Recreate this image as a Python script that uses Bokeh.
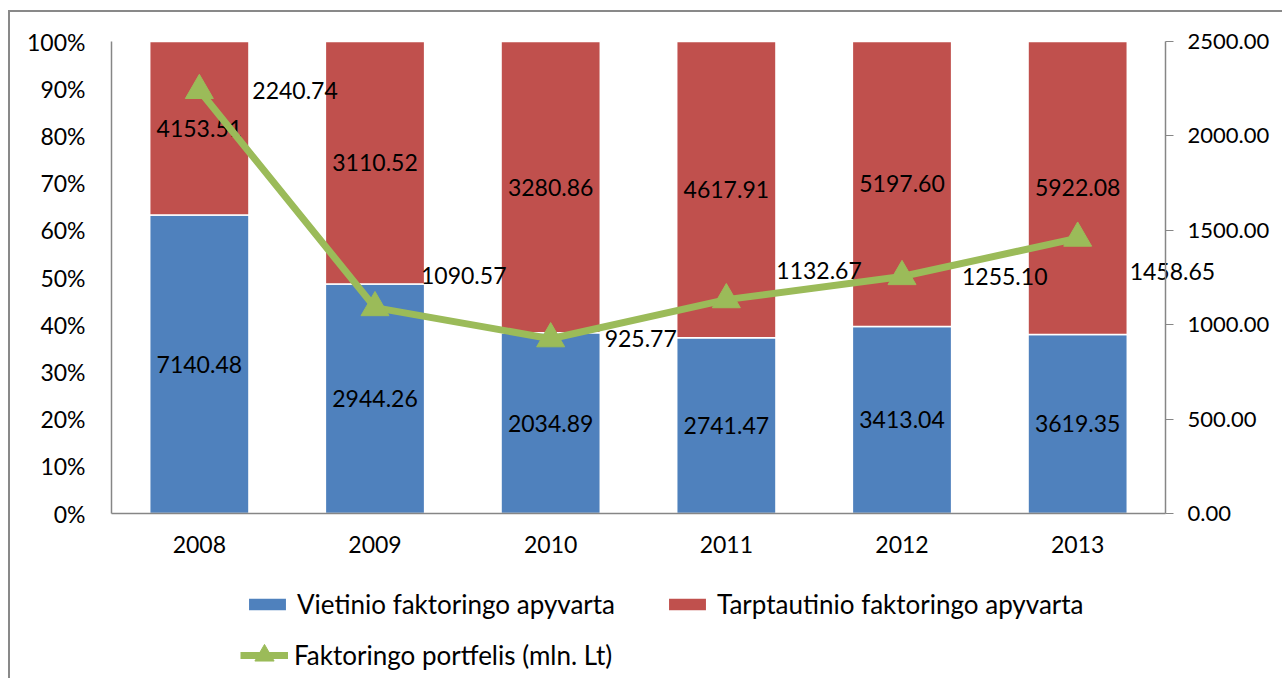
import numpy as np
from bokeh.plotting import figure
from bokeh.models import (ColumnDataSource, Range1d, LinearAxis, FixedTicker,
                          NumeralTickFormatter, Legend, LegendItem, Grid)
from bokeh.core.properties import value
from bokeh.embed import file_html
from bokeh.resources import INLINE

# ---- data ----
years = ["2008", "2009", "2010", "2011", "2012", "2013"]
vietinio = [7140.48, 2944.26, 2034.89, 2741.47, 3413.04, 3619.35]
tarptautinio = [4153.51, 3110.52, 3280.86, 4617.91, 5197.60, 5922.08]
portfelis = [2240.74, 1090.57, 925.77, 1132.67, 1255.10, 1458.65]
pct_ticks = [0, 0.1, 0.2, 0.3, 0.4, 0.5, 0.6, 0.7, 0.8, 0.9, 1.0]
right_ticks = [0, 500, 1000, 1500, 2000, 2500]
right_max = 2500
series_names = ["Vietinio faktoringo apyvarta", "Tarptautinio faktoringo apyvarta",
                "Faktoringo portfelis (mln. Lt)"]

# ---- styles / layout (pixels) ----
FONT = "Lato"
FS = "23px"
FS_R = "22px"
FS_LEG = "26px"
BLUE = "#4F81BD"
RED = "#C0504D"
GREEN = "#9BBB59"
AXIS = "#868686"
line_label_dx = [53, 46, 54, 50, 60, 52]   # label offsets (px)
line_label_dy = [0, -32, 0, -29, 0, 33]

W, H = 1274, 668            # canvas size
ORG_X, ORG_Y = 10, 12       # canvas origin on page
AX_L, AX_R = 111, 1165      # axis x positions on page
AX_T, AX_B = 41, 513        # 100% / 0% y positions on page

n = len(years)
xpos = np.arange(n) + 0.5          # category centres
ppx = (AX_R - AX_L) / n
x_lo = (ORG_X - AX_L) / ppx
x_hi = n + ((ORG_X + W) - AX_R) / ppx
ppy = AX_B - AX_T
y_lo = -((ORG_Y + H) - AX_B) / ppy
y_hi = 1 + (AX_T - ORG_Y) / ppy

v = np.array(vietinio)
t = np.array(tarptautinio)
share_v = v / (v + t)

src = ColumnDataSource(dict(
    x=xpos,
    v_top=share_v,
    v_mid=share_v / 2,
    t_mid=(share_v + 1) / 2,
    ones=[1.0] * n,
    v_lab=["%.2f" % a for a in vietinio],
    t_lab=["%.2f" % a for a in tarptautinio],
))
lsrc = ColumnDataSource(dict(
    x=xpos, y=portfelis,
    lab=["%.2f" % a for a in portfelis],
    dx=line_label_dx,
    dy=line_label_dy,
))

p = figure(x_range=Range1d(x_lo, x_hi), y_range=Range1d(y_lo, y_hi),
           width=W, height=H, output_backend="svg", toolbar_location=None,
           min_border_left=0, min_border_right=0,
           min_border_top=0, min_border_bottom=0,
           x_axis_location=None, y_axis_location=None)
p.styles = {"margin-left": "8px", "margin-top": "10px",
            "border-left": "2px solid #898989", "border-top": "2px solid #898989"}
p.extra_y_ranges = {"right": Range1d(y_lo * right_max, y_hi * right_max)}
p.outline_line_color = None
p.background_fill_color = "white"
p.border_fill_color = "white"
for g in p.select(type=Grid):
    g.visible = False

rv = p.vbar(x="x", bottom=0, top="v_top", width=0.565, source=src,
            fill_color=BLUE, line_color="white", line_width=1.5)
rt = p.vbar(x="x", bottom="v_top", top="ones", width=0.565, source=src,
            fill_color=RED, line_color="white", line_width=1.5)

p.text(x="x", y="v_mid", text="v_lab", source=src, text_align="center",
       text_baseline="middle", text_font=value(FONT), text_font_size=FS,
       text_color="black")
p.text(x="x", y="t_mid", text="t_lab", source=src, text_align="center",
       text_baseline="middle", text_font=value(FONT), text_font_size=FS,
       text_color="black")

rl = p.line(x="x", y="y", source=lsrc, y_range_name="right",
            line_color=GREEN, line_width=7)
rs = p.scatter(x="x", y="y", source=lsrc, y_range_name="right",
               marker="triangle", size=28, fill_color=GREEN, line_color=GREEN)
p.text(x="x", y="y", text="lab", source=lsrc, y_range_name="right",
       x_offset="dx", y_offset="dy", text_align="left", text_baseline="middle",
       text_font=value(FONT), text_font_size=FS, text_color="black")

# left axis (percent)
ya = LinearAxis(ticker=FixedTicker(ticks=pct_ticks),
                formatter=NumeralTickFormatter(format="0%"),
                fixed_location=0, bounds=(0, 1))
ya.major_tick_out = 0
ya.major_tick_in = 0
ya.minor_tick_out = 0
ya.minor_tick_in = 0
ya.axis_line_color = AXIS
ya.axis_line_width = 1.5
ya.major_label_standoff = 26
ya.major_label_text_font = FONT
ya.major_label_text_font_size = FS
ya.major_label_text_color = "black"
p.add_layout(ya, "left")

# bottom axis (years)
xa = LinearAxis(ticker=FixedTicker(ticks=list(xpos)),
                major_label_overrides={float(xv): yr for xv, yr in zip(xpos, years)},
                fixed_location=0, bounds=(0, n))
xa.major_tick_out = 0
xa.major_tick_in = 0
xa.minor_tick_out = 0
xa.minor_tick_in = 0
xa.axis_line_color = AXIS
xa.axis_line_width = 1.5
xa.major_label_standoff = 22
xa.major_label_text_font = FONT
xa.major_label_text_font_size = FS
xa.major_label_text_color = "black"
p.add_layout(xa, "below")

# right axis (mln. Lt)
ra = LinearAxis(y_range_name="right", ticker=FixedTicker(ticks=right_ticks),
                formatter=NumeralTickFormatter(format="0.00"),
                fixed_location=n, bounds=(0, right_max))
ra.major_tick_out = 8
ra.major_tick_in = 0
ra.minor_tick_out = 0
ra.minor_tick_in = 0
ra.axis_line_color = AXIS
ra.axis_line_width = 1.5
ra.major_tick_line_color = AXIS
ra.major_label_standoff = 14
ra.major_label_text_font = FONT
ra.major_label_text_font_size = FS_R
ra.major_label_text_color = "black"
p.add_layout(ra, "right")


def style_legend(lg):
    lg.label_text_font = FONT
    lg.label_text_font_size = FS_LEG
    lg.label_text_color = "black"
    lg.glyph_width = 48
    lg.glyph_height = 16
    lg.label_standoff = 6
    lg.border_line_color = None
    lg.background_fill_alpha = 0
    lg.margin = 0
    lg.padding = 0


legend1 = Legend(items=[
    LegendItem(label=series_names[0], renderers=[rv]),
    LegendItem(label=series_names[1], renderers=[rt]),
], orientation="horizontal", location=(233, 60))
style_legend(legend1)
legend1.spacing = 48
legend2 = Legend(items=[
    LegendItem(label=series_names[2], renderers=[rl, rs]),
], orientation="horizontal", location=(230, 1))
style_legend(legend2)
legend2.glyph_height = 48
p.add_layout(legend1, "center")
p.add_layout(legend2, "center")

open("out.html", "w").write(file_html(p, INLINE))
